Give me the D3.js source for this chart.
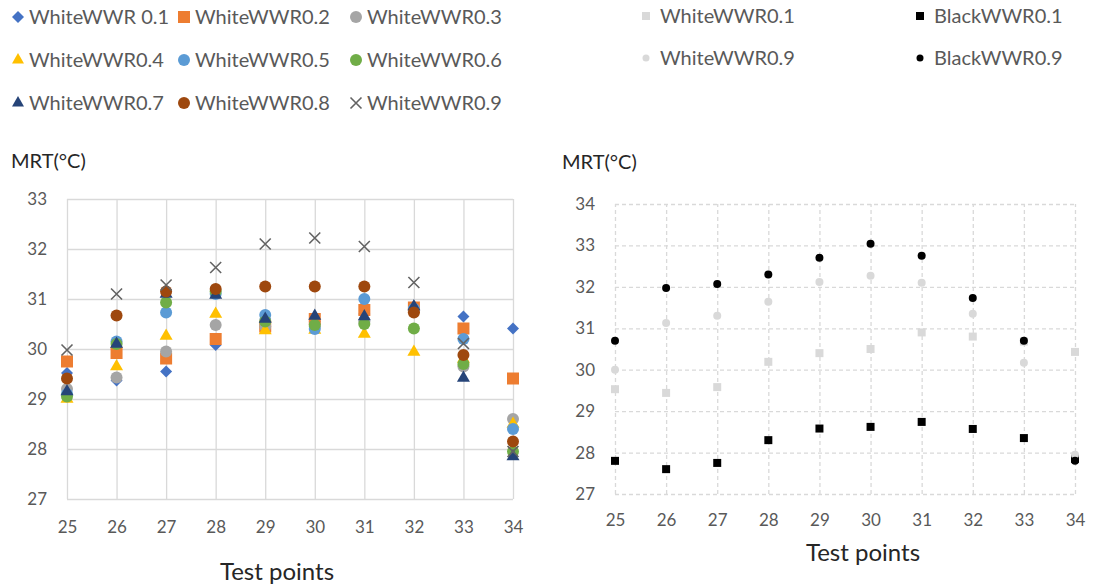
<!DOCTYPE html>
<html lang="en">
<head>
  <meta charset="UTF-8">
  <title>MRT test points</title>
  <script src="https://d3js.org/d3.v7.min.js"></script>
  <style>
    body { margin: 0; background: #fff; }
    text { font-family: Lato, "Open Sans", sans-serif; }
    .tick text { fill: #595959; font-size: 17px; }
    .legend text { fill: #595959; font-size: 20px; }
    .title { fill: #262626; }
  </style>
</head>
<body>
  <svg id="chart" width="1094" height="584"></svg>
  <script>
    const points = [25, 26, 27, 28, 29, 30, 31, 32, 33, 34];

    // left panel: white roof, window-to-wall ratios
    const leftNames = ['WhiteWWR 0.1', 'WhiteWWR0.2', 'WhiteWWR0.3', 'WhiteWWR0.4', 'WhiteWWR0.5',
                       'WhiteWWR0.6', 'WhiteWWR0.7', 'WhiteWWR0.8', 'WhiteWWR0.9'];
    const w01 = [29.52, 29.37, 29.55, 30.08, 30.6, 30.55, 30.7, 30.8, 30.65, 30.41];
    const w02 = [29.75, 29.92, 29.81, 30.2, 30.45, 30.6, 30.78, 30.83, 30.41, 29.41];
    const w03 = [29.2, 29.43, 29.95, 30.48, 30.45, 30.45, 30.55, 30.8, 29.65, 28.6];
    const w04 = [29.0, 29.65, 30.26, 30.7, 30.37, 30.38, 30.3, 29.94, 29.8, 28.5];
    const w05 = [29.1, 30.15, 30.73, 31.1, 30.68, 30.4, 31.0, 30.8, 30.2, 28.4];
    const w06 = [29.05, 30.1, 30.93, 31.15, 30.55, 30.48, 30.5, 30.41, 29.7, 27.95];
    const w07 = [29.15, 30.1, 31.1, 31.08, 30.6, 30.66, 30.65, 30.85, 29.42, 27.85];
    const w08 = [29.41, 30.67, 31.15, 31.2, 31.25, 31.25, 31.25, 30.73, 29.88, 28.15];
    const w09 = [29.98, 31.1, 31.28, 31.63, 32.1, 32.22, 32.05, 31.33, 30.11, 27.95];
    const leftValues = [w01, w02, w03, w04, w05, w06, w07, w08, w09];
    const leftColors = ['#4472C4', '#ED7D31', '#A5A5A5', '#FFC000', '#5B9BD5',
                        '#70AD47', '#264478', '#9E480E', '#636363'];
    const leftShapes = ['diamond', 'square', 'circle', 'triangle', 'circle',
                        'circle', 'triangle', 'circle', 'x'];
    const leftTicks = [27, 28, 29, 30, 31, 32, 33];

    // right panel: white vs black roof
    const rightNames = ['WhiteWWR0.1', 'BlackWWR0.1', 'WhiteWWR0.9', 'BlackWWR0.9'];
    const whiteW01 = [29.53, 29.44, 29.58, 30.19, 30.4, 30.5, 30.9, 30.8, 30.68, 30.43];
    const blackW01 = [27.8, 27.6, 27.75, 28.3, 28.58, 28.62, 28.74, 28.57, 28.35, 27.85];
    const whiteW09 = [30.0, 31.13, 31.3, 31.64, 32.12, 32.27, 32.1, 31.35, 30.17, 27.95];
    const blackW09 = [30.7, 31.97, 32.07, 32.3, 32.7, 33.04, 32.75, 31.73, 30.7, 27.8];
    const rightValues = [whiteW01, blackW01, whiteW09, blackW09];
    const rightColors = ['#D9D9D9', '#000000', '#D9D9D9', '#000000'];
    const rightShapes = ['square', 'square', 'circle', 'circle'];
    const rightTicks = [27, 28, 29, 30, 31, 32, 33, 34];

    const svg = d3.select('#chart');

    // marker path builder; size is the rough width in px
    function marker(shape, s) {
      if (shape === 'x') {
        const h = s / 2;
        return `M${-h},${-h}L${h},${h}M${-h},${h}L${h},${-h}`;
      }
      if (shape === 'diamond') {
        const h = s / 2;
        return `M0,${-h}L${h},0L0,${h}L${-h},0Z`;
      }
      if (shape === 'square') return d3.symbol(d3.symbolSquare, s * s)();
      if (shape === 'circle') return d3.symbol(d3.symbolCircle, Math.PI * s * s / 4)();
      if (shape === 'triangle') return d3.symbol(d3.symbolTriangle, Math.sqrt(3) / 4 * s * s)();
    }

    function drawMark(sel, shape, color, s) {
      const p = sel.append('path').attr('d', marker(shape, s));
      if (shape === 'x') p.attr('fill', 'none').attr('stroke', color).attr('stroke-width', 1.6);
      else p.attr('fill', color);
      return p;
    }

    function panel(cfg) {
      const x = d3.scaleLinear().domain([25, 34]).range([cfg.left, cfg.right]);
      const y = d3.scaleLinear().domain(cfg.yDomain).range([cfg.bottom, cfg.top]);
      const g = svg.append('g');

      // gridlines
      g.append('g')
        .attr('transform', `translate(0,${cfg.bottom})`)
        .call(d3.axisBottom(x).tickValues(points).tickSize(-(cfg.bottom - cfg.top)).tickFormat(''))
        .call(a => a.select('.domain').remove())
        .selectAll('line')
        .attr('stroke', '#d9d9d9').attr('stroke-width', 1.3)
        .attr('stroke-dasharray', cfg.dash);
      g.append('g')
        .attr('transform', `translate(${cfg.left},0)`)
        .call(d3.axisLeft(y).tickValues(cfg.yTicks).tickSize(-(cfg.right - cfg.left)).tickFormat(''))
        .call(a => a.select('.domain').remove())
        .selectAll('line')
        .attr('stroke', '#d9d9d9').attr('stroke-width', 1.3)
        .attr('stroke-dasharray', cfg.dash);

      // tick labels
      g.append('g')
        .attr('transform', `translate(0,${cfg.bottom})`)
        .call(d3.axisBottom(x).tickValues(points).tickSize(0).tickPadding(cfg.xPad).tickFormat(d3.format('d')))
        .call(a => a.select('.domain').remove())
        .selectAll('text').attr('font-family', null);
      g.append('g')
        .attr('transform', `translate(${cfg.left},0)`)
        .call(d3.axisLeft(y).tickValues(cfg.yTicks).tickSize(0).tickPadding(20).tickFormat(d3.format('d')))
        .call(a => a.select('.domain').remove())
        .selectAll('text').attr('font-family', null);
      g.selectAll('.tick text').attr('font-size', null);

      // points
      cfg.values.forEach((vals, i) => {
        g.append('g').selectAll('path')
          .data(vals)
          .join(enter => {
            const grp = enter.append('g')
              .attr('transform', (d, j) => `translate(${x(points[j])},${y(d)})`);
            drawMark(grp, cfg.shapes[i], cfg.colors[i], cfg.markSize[i]);
            return grp;
          });
      });

      // titles
      svg.append('text').attr('class', 'title')
        .attr('x', cfg.yTitleX).attr('y', cfg.yTitleY)
        .attr('font-size', 20).text('MRT(°C)');
      svg.append('text').attr('class', 'title')
        .attr('x', cfg.xTitleX).attr('y', cfg.xTitleY)
        .attr('text-anchor', 'middle')
        .attr('font-size', 24).text('Test points');
    }

    panel({
      left: 67, right: 513, top: 199, bottom: 499,
      yDomain: [27, 33], yTicks: leftTicks, dash: null, xPad: 22,
      values: leftValues, colors: leftColors, shapes: leftShapes,
      markSize: [12, 12, 12, 13, 12, 12, 13, 12, 11],
      yTitleX: 11, yTitleY: 168, xTitleX: 277, xTitleY: 580
    });

    panel({
      left: 615, right: 1075, top: 204, bottom: 494,
      yDomain: [27, 34], yTicks: rightTicks, dash: '4,3', xPad: 20,
      values: rightValues, colors: rightColors, shapes: rightShapes,
      markSize: [8, 8, 8, 8],
      yTitleX: 562, yTitleY: 169, xTitleX: 863, xTitleY: 561
    });

    // legends
    const legL = svg.append('g').attr('class', 'legend');
    const legLCols = [18, 184, 356];
    const legLRows = [17, 60, 103];
    leftNames.forEach((name, i) => {
      const cx = legLCols[i % 3], cy = legLRows[Math.floor(i / 3)];
      const item = legL.append('g').attr('transform', `translate(${cx},${cy})`);
      drawMark(item, leftShapes[i], leftColors[i], leftShapes[i] === 'x' ? 11 : 12);
      item.append('text').attr('x', 11).attr('dy', '0.35em').text(name);
    });

    const legR = svg.append('g').attr('class', 'legend');
    const legRCols = [646, 920];
    const legRRows = [16, 58];
    rightNames.forEach((name, i) => {
      const cx = legRCols[i % 2], cy = legRRows[Math.floor(i / 2)];
      const item = legR.append('g').attr('transform', `translate(${cx},${cy})`);
      drawMark(item, rightShapes[i], rightColors[i], rightShapes[i] === 'square' ? 8 : 7);
      item.append('text').attr('x', 14).attr('dy', '0.35em').text(name);
    });
  </script>
</body>
</html>
